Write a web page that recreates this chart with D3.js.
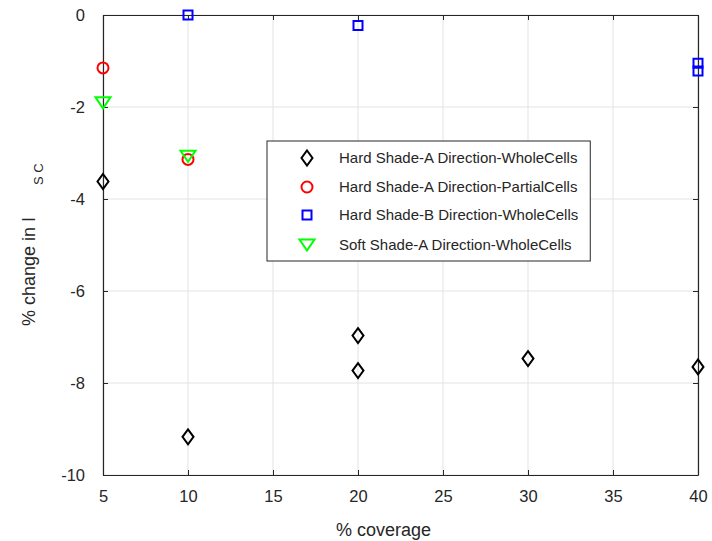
<!DOCTYPE html>
<html>
<head>
<meta charset="utf-8">
<script src="https://cdn.jsdelivr.net/npm/d3@7"></script>
<style>
  body { margin: 0; background: #fff; }
  svg text { font-family: "Liberation Sans", Arial, sans-serif; fill: #262626; }
</style>
</head>
<body>
<div id="chart"></div>
<script>
"use strict";

var xTicks = [5, 10, 15, 20, 25, 30, 35, 40];
var yTicks = [-10, -8, -6, -4, -2, 0];

var hardAWholeX = [5, 10, 20, 20, 30, 40];
var hardAWholeY = [-3.62, -9.17, -6.97, -7.73, -7.47, -7.65];
var hardAPartialX = [5, 10];
var hardAPartialY = [-1.15, -3.14];
var hardBWholeX = [10, 20, 40, 40];
var hardBWholeY = [0.0, -0.23, -1.05, -1.22];
var softAWholeX = [5, 10];
var softAWholeY = [-1.91, -3.07];

var seriesNames = [
    "Hard Shade-A Direction-WholeCells",
    "Hard Shade-A Direction-PartialCells",
    "Hard Shade-B Direction-WholeCells",
    "Soft Shade-A Direction-WholeCells"
];

var width = 712, height = 541;
var margin = {top: 15, right: 14, bottom: 66, left: 103};
var plotW = width - margin.left - margin.right;
var plotH = height - margin.top - margin.bottom;

var svg = d3.select("#chart").append("svg")
    .attr("width", width)
    .attr("height", height);

var x = d3.scaleLinear().domain([5, 40]).range([0, plotW]);
var y = d3.scaleLinear().domain([-10, 0]).range([plotH, 0]);

var g = svg.append("g").attr("transform", "translate(" + margin.left + "," + margin.top + ")");

// grid
g.append("g").selectAll("line").data(xTicks).enter().append("line")
    .attr("x1", function (d) { return x(d); })
    .attr("x2", function (d) { return x(d); })
    .attr("y1", 0).attr("y2", plotH)
    .attr("stroke", "#e3e3e3").attr("stroke-width", 1);
g.append("g").selectAll("line").data(yTicks).enter().append("line")
    .attr("y1", function (d) { return y(d); })
    .attr("y2", function (d) { return y(d); })
    .attr("x1", 0).attr("x2", plotW)
    .attr("stroke", "#e3e3e3").attr("stroke-width", 1);

// axes with inward ticks
var fmt = function (d) { return String(d); };
var xAxis = d3.axisBottom(x).tickValues(xTicks).tickSizeInner(-5).tickSizeOuter(0).tickPadding(15).tickFormat(fmt);
var yAxis = d3.axisLeft(y).tickValues(yTicks).tickSizeInner(-5).tickSizeOuter(0).tickPadding(18).tickFormat(fmt);
var xTop = d3.axisTop(x).tickValues(xTicks).tickSizeInner(-5).tickSizeOuter(0).tickFormat("");
var yRight = d3.axisRight(y).tickValues(yTicks).tickSizeInner(-5).tickSizeOuter(0).tickFormat("");

function styleAxis(sel) {
    sel.selectAll("path").attr("stroke", "#262626").attr("stroke-width", 1.2);
    sel.selectAll("line").attr("stroke", "#262626");
    sel.selectAll("text").style("font-size", "16.5px").style("font-family", "Liberation Sans, Arial, sans-serif").attr("fill", "#262626");
}

g.append("g").attr("transform", "translate(0," + plotH + ")").call(xAxis).call(styleAxis);
g.append("g").call(yAxis).call(styleAxis);
g.append("g").call(xTop).call(styleAxis);
g.append("g").attr("transform", "translate(" + plotW + ",0)").call(yRight).call(styleAxis);

// axis labels
svg.append("text")
    .attr("x", 383.5).attr("y", 536)
    .attr("text-anchor", "middle")
    .style("font-size", "18px")
    .text("% coverage");

svg.append("text")
    .attr("transform", "translate(35,217) rotate(-90)")
    .attr("text-anchor", "end")
    .style("font-size", "18px")
    .text("% change in I");
svg.append("text")
    .attr("transform", "translate(43,185) rotate(-90)")
    .attr("text-anchor", "start")
    .style("font-size", "13px")
    .text("S C");

// markers
var symDiamond = function (cx, cy) {
    var w = 5.5, h = 7.5;
    return "M" + cx + "," + (cy - h) + "L" + (cx + w) + "," + cy + "L" + cx + "," + (cy + h) + "L" + (cx - w) + "," + cy + "Z";
};
var symTriangle = function (cx, cy) {
    var w = 7.5, h = 5.5;
    return "M" + (cx - w) + "," + (cy - h) + "L" + (cx + w) + "," + (cy - h) + "L" + cx + "," + (cy + h) + "Z";
};
var symSquare = function (cx, cy) {
    var s = 4.5;
    return "M" + (cx - s) + "," + (cy - s) + "h" + (2 * s) + "v" + (2 * s) + "h" + (-2 * s) + "Z";
};
var symCircle = function (cx, cy) {
    var r = 5.5;
    return "M" + (cx - r) + "," + cy + "a" + r + "," + r + " 0 1,0 " + (2 * r) + ",0a" + r + "," + r + " 0 1,0 " + (-2 * r) + ",0Z";
};

var series = [
    {xs: hardAWholeX, ys: hardAWholeY, color: "#000000", sym: symDiamond},
    {xs: hardAPartialX, ys: hardAPartialY, color: "#ff0000", sym: symCircle},
    {xs: hardBWholeX, ys: hardBWholeY, color: "#0000ff", sym: symSquare},
    {xs: softAWholeX, ys: softAWholeY, color: "#00ff00", sym: symTriangle}
];

series.forEach(function (s) {
    g.append("g").selectAll("path").data(s.xs).enter().append("path")
        .attr("d", function (d, i) { return s.sym(x(d), y(s.ys[i])); })
        .attr("fill", "none")
        .attr("stroke", s.color)
        .attr("stroke-width", 2);
});

// legend, box sized to the longest label
var legend = svg.append("g").attr("transform", "translate(267,141)");
var legendBox = legend.append("rect")
    .attr("height", 120)
    .attr("fill", "#fff").attr("stroke", "#262626").attr("stroke-width", 1);
var rowY = [17, 46, 74, 104];
var maxLen = 0;
series.forEach(function (s, i) {
    legend.append("path")
        .attr("d", s.sym(40, rowY[i]))
        .attr("fill", "none").attr("stroke", s.color).attr("stroke-width", 2);
    var t = legend.append("text")
        .attr("x", 72).attr("y", rowY[i] + 5)
        .style("font-size", "15px")
        .text(seriesNames[i]);
    maxLen = Math.max(maxLen, t.node().getComputedTextLength());
});
legendBox.attr("width", 72 + maxLen + 12);
</script>
</body>
</html>
